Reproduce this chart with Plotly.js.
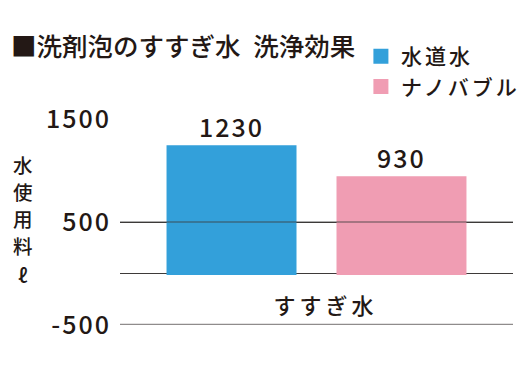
<!DOCTYPE html>
<html>
<head>
<meta charset="utf-8">
<script src="https://cdn.plot.ly/plotly-3.0.1.min.js"></script>
<style>
html,body{margin:0;padding:0;background:#fff;}
#chart{width:526px;height:378px;}
text.legendtext{letter-spacing:3px;}
#chart .ytick text{letter-spacing:2px;}
#chart .xtick text{letter-spacing:4px;}
text.bartext{letter-spacing:2px;}
</style>
</head>
<body>
<div id="chart"></div>
<script>
const categories = ["すすぎ水"];
const seriesNames = ["水道水", "ナノバブル"];
const tapWater = [1230];
const nanoBubble = [930];
const yTickVals = [1500, 500, -500];
const yTickText = ["1500", "500", "-500"];
const titleText = "■洗剤泡のすすぎ水\u2002洗浄効果";
const yTitleChars = ["水", "使", "用", "料", "ℓ"];

const FONT = "Noto Sans CJK JP, Noto Sans, sans-serif";
const INK = "#231815";
const colors = ["#33a0da", "#f09db3"];

const traces = [tapWater, nanoBubble].map((vals, i) => ({
  type: "bar", name: seriesNames[i], x: categories, y: vals,
  text: vals.map(String), textposition: "outside", cliponaxis: false,
  marker: {color: colors[i], line: {color: colors[i], width: 3}},
  textfont: {family: FONT, size: 25, color: INK, weight: 500}, hoverinfo: "none"
}));

const H = 378, plotTop = 119, plotBottom = 53;
const plotH = H - plotTop - plotBottom;
const yMin = -500, yMax = 1500;
const zeroPos = (0 - yMin) / (yMax - yMin);

// vertical y-axis title: one upright character per line
const charCenters = [164, 191, 218, 245, 274];
const yTitleAnns = yTitleChars.map((c, i) => ({
  text: c, xref: "paper", x: (23 - 120) / 393, xanchor: "center",
  yref: "paper", y: (H - plotBottom - charCenters[i]) / plotH, yanchor: "middle",
  showarrow: false, borderpad: 0, font: {family: FONT, size: 19.5, color: INK, weight: 500}
}));

const layout = {
  width: 526, height: 378,
  margin: {l: 120, r: 13, t: plotTop, b: plotBottom, pad: 0},
  paper_bgcolor: "#fff", plot_bgcolor: "#fff",
  font: {family: FONT, color: INK},
  showlegend: true,
  legend: {x: 0.613, xref: "paper", xanchor: "left", y: 1 - 36 / H, yref: "container", yanchor: "top",
           font: {family: FONT, size: 21, color: INK, weight: 500}, bgcolor: "rgba(0,0,0,0)",
           tracegroupgap: 0, itemwidth: 30},
  barmode: "group", bargap: 0.135, bargroupgap: 0.253,
  title: {text: titleText, x: 11 / 526, xref: "container", xanchor: "left", y: 1 - 47 / H, yref: "container", yanchor: "middle",
          font: {family: FONT, size: 25.5, color: INK, weight: 500}},
  xaxis: {anchor: "free", position: zeroPos, showline: false, showgrid: false, zeroline: false,
          ticks: "outside", ticklen: 13, tickcolor: "rgba(0,0,0,0)", ticklabelshift: 9,
          tickfont: {family: FONT, size: 22, color: INK, weight: 500}, fixedrange: true},
  yaxis: {range: [yMin, yMax], tickvals: yTickVals, ticktext: yTickText,
          showgrid: true, gridcolor: "#3e3a39", gridwidth: 1,
          zeroline: true, zerolinecolor: "#3e3a39", zerolinewidth: 1.5,
          showline: false, ticks: "outside", ticklen: 3, tickcolor: "rgba(0,0,0,0)",
          tickfont: {family: FONT, size: 25, color: INK, weight: 500}, fixedrange: true},
  shapes: [
    {type: "line", xref: "paper", x0: 0, x1: 1, yref: "y", y0: yTickVals[1], y1: yTickVals[1],
     line: {color: "rgba(60,60,60,0.55)", width: 1.5}, layer: "above"},
    {type: "line", xref: "paper", x0: 0, x1: 1, yref: "y", y0: yTickVals[2], y1: yTickVals[2],
     line: {color: "#8f8c8c", width: 2.5}, layer: "above"}
  ],
  annotations: yTitleAnns
};

Plotly.newPlot("chart", traces, layout, {displayModeBar: false, staticPlot: true});
</script>
</body>
</html>
